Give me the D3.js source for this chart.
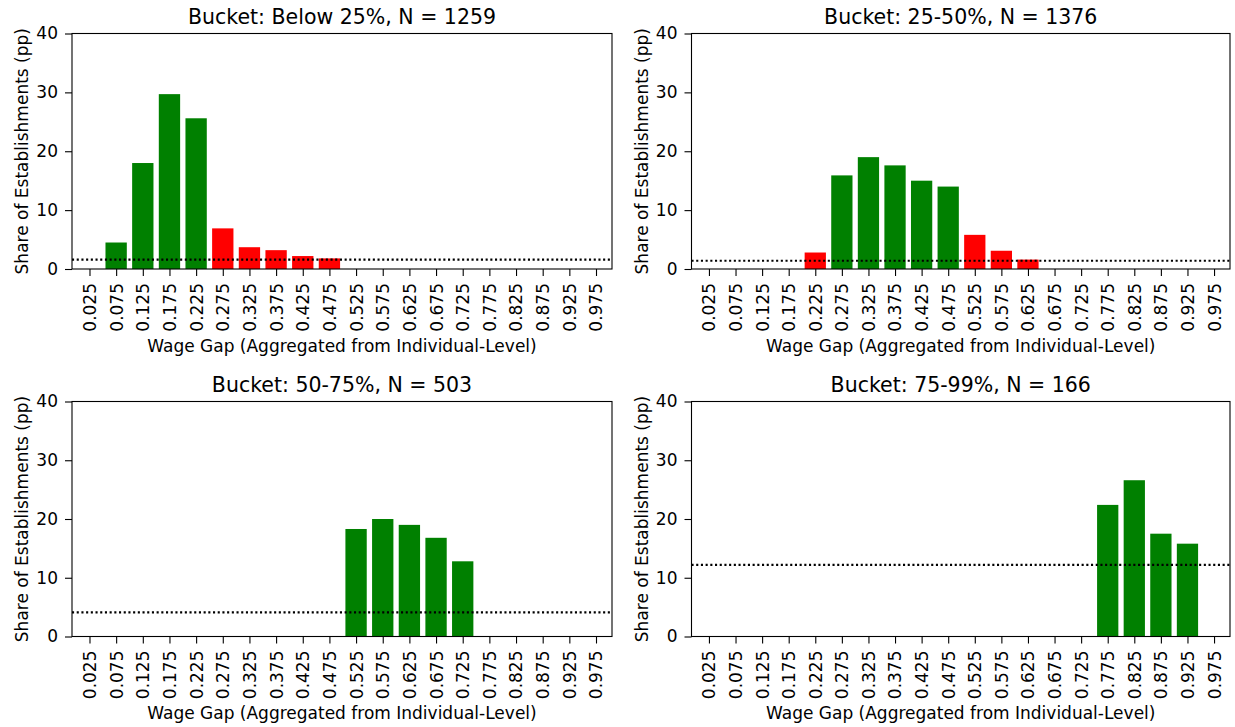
<!DOCTYPE html>
<html>
<head>
<meta charset="utf-8">
<script src="https://cdn.jsdelivr.net/npm/d3@7"></script>
<style>
  body { margin: 0; background: #fff; }
  text { font-family: "DejaVu Sans", sans-serif; fill: #000; }
</style>
</head>
<body>
<svg id="chart" width="1235" height="727"></svg>
<script>
// ---- data ----
const categories = ["0.025","0.075","0.125","0.175","0.225","0.275","0.325","0.375","0.425","0.475",
                    "0.525","0.575","0.625","0.675","0.725","0.775","0.825","0.875","0.925","0.975"];
const yTicks = [0, 10, 20, 30, 40];
const titles = ["Bucket: Below 25%, N = 1259", "Bucket: 25-50%, N = 1376",
                "Bucket: 50-75%, N = 503", "Bucket: 75-99%, N = 166"];
// values per category (0 = no bar)
const valuesBelow25 = [0, 4.5, 18.0, 29.7, 25.6, 6.9, 3.7, 3.2, 2.2, 1.8, 0,0,0,0,0,0,0,0,0,0];
const values25to50  = [0,0,0,0, 2.8, 15.9, 19.0, 17.6, 15.0, 14.0, 5.8, 3.1, 1.6, 0,0,0,0,0,0,0];
const values50to75  = [0,0,0,0,0,0,0,0,0,0, 18.3, 20.0, 19.0, 16.8, 12.8, 0,0,0,0,0];
const values75to99  = [0,0,0,0,0,0,0,0,0,0,0,0,0,0,0, 22.4, 26.6, 17.5, 15.8, 0];
// colour flag per category: "g" green, "r" red
const colorsBelow25 = ["g","g","g","g","g","r","r","r","r","r","g","g","g","g","g","g","g","g","g","g"];
const colors25to50  = ["g","g","g","g","r","g","g","g","g","g","r","r","r","g","g","g","g","g","g","g"];
const colors50to75  = categories.map(() => "g");
const colors75to99  = categories.map(() => "g");
const refLines = [1.6, 1.4, 4.1, 12.2];

const series = [valuesBelow25, values25to50, values50to75, values75to99];
const colorSets = [colorsBelow25, colors25to50, colors50to75, colors75to99];

// ---- layout ----
const boxes = [
  {x0: 72,    x1: 612,  y0: 33.5,  y1: 269},
  {x0: 691.5, x1: 1230, y0: 33.5,  y1: 269},
  {x0: 72,    x1: 612,  y0: 401.5, y1: 636.5},
  {x0: 691.5, x1: 1230, y0: 401.5, y1: 636.5}
];
const colorMap = {g: "#008000", r: "#ff0000"};
const FS = 17;

const svg = d3.select("#chart");

boxes.forEach((b, p) => {
  const idx = categories.map((c, i) => i);
  const x = d3.scaleLinear().domain([-0.656, 19.6]).range([b.x0, b.x1]);
  const y = d3.scaleLinear().domain([0, 40]).range([b.y1, b.y0]);
  const g = svg.append("g");

  // bars
  g.selectAll("rect.bar")
    .data(idx.filter(i => series[p][i] > 0))
    .join("rect")
    .attr("x", i => x(i - 0.4))
    .attr("width", i => x(i + 0.4) - x(i - 0.4))
    .attr("y", i => y(series[p][i]))
    .attr("height", i => y(0) - y(series[p][i]))
    .attr("fill", i => colorMap[colorSets[p][i]]);

  // reference dotted line
  g.append("line")
    .attr("x1", b.x0).attr("x2", b.x1)
    .attr("y1", y(refLines[p])).attr("y2", y(refLines[p]))
    .attr("stroke", "#000").attr("stroke-width", 2.1)
    .attr("stroke-dasharray", "2.1,2.6");

  // x axis
  const xAxis = d3.axisBottom(x).tickValues(idx).tickFormat(i => categories[i])
    .tickSize(7).tickPadding(7);
  const xg = g.append("g").attr("transform", `translate(0,${b.y1})`).call(xAxis);
  xg.select(".domain").remove();
  xg.selectAll(".tick line").attr("stroke", "#000").attr("stroke-width", 1.1);
  xg.selectAll(".tick text")
    .attr("font-size", FS).attr("font-family", "DejaVu Sans")
    .attr("text-anchor", "end")
    .attr("transform", "rotate(-90)")
    .attr("x", -14).attr("y", 0).attr("dy", "0.35em");

  // y axis
  const yAxis = d3.axisLeft(y).tickValues(yTicks).tickSize(7).tickPadding(7);
  const yg = g.append("g").attr("transform", `translate(${b.x0},0)`).call(yAxis);
  yg.select(".domain").remove();
  yg.selectAll(".tick line").attr("stroke", "#000").attr("stroke-width", 1.1);
  yg.selectAll(".tick text").attr("font-size", FS).attr("font-family", "DejaVu Sans");

  // frame
  g.append("rect")
    .attr("x", b.x0).attr("y", b.y0)
    .attr("width", b.x1 - b.x0).attr("height", b.y1 - b.y0)
    .attr("fill", "none").attr("stroke", "#000").attr("stroke-width", 1.1);

  // title
  g.append("text")
    .attr("x", (b.x0 + b.x1) / 2).attr("y", b.y0 - 10)
    .attr("text-anchor", "middle").attr("font-size", 20.5)
    .text(titles[p]);

  // x label
  g.append("text")
    .attr("x", (b.x0 + b.x1) / 2).attr("y", b.y1 + 82.5)
    .attr("text-anchor", "middle").attr("font-size", FS)
    .text("Wage Gap (Aggregated from Individual-Level)");

  // y label
  g.append("text")
    .attr("transform", `translate(${b.x0 - 44},${(b.y0 + b.y1) / 2}) rotate(-90)`)
    .attr("text-anchor", "middle").attr("font-size", FS)
    .text("Share of Establishments (pp)");
});
</script>
</body>
</html>
